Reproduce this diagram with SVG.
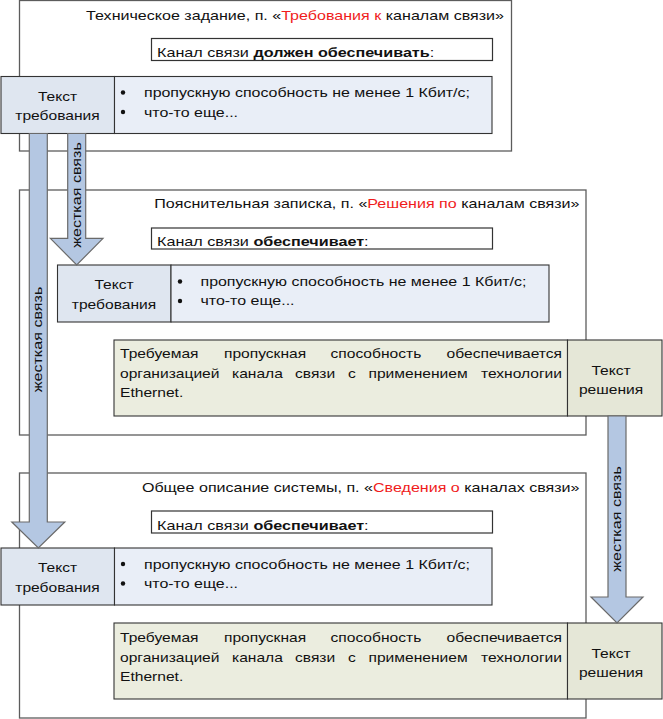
<svg xmlns="http://www.w3.org/2000/svg" width="663" height="719" viewBox="0 0 663 719">
<style>
text{font-family:"Liberation Sans",Arial,sans-serif;font-size:13px;fill:#111}
.red{fill:#f01c1c}
.b{font-weight:bold}
.mid{text-anchor:middle}
.end{text-anchor:end}
.frame{fill:#fff;stroke:#5c5c5c;stroke-width:1.3}
.box{fill:#fff;stroke:#333;stroke-width:1.2}
.rl{fill:#dfe6f0;stroke:#333;stroke-width:1.1}
.rr{fill:#e9eef7;stroke:#333;stroke-width:1.1}
.sl{fill:#ebeddf;stroke:#333;stroke-width:1.1}
.sr{fill:#e5e7d7;stroke:#333;stroke-width:1.1}
.arrow{fill:#b4c7e2;stroke:#6a6a6a;stroke-width:1.2}
.dot{fill:#111}
</style>

<g id="frame1">
<rect class="frame" x="19.5" y="0.5" width="492" height="150.5"/>
<text class="end" transform="matrix(1.236 0 0 1 504 20)">Техническое задание, п. «<tspan class="red">Требования к</tspan> каналам связи»</text>
</g>
<g id="frame2">
<rect class="frame" x="19.5" y="190" width="566.5" height="245"/>
<text class="end" transform="matrix(1.236 0 0 1 579.5 208)">Пояснительная записка, п. «<tspan class="red">Решения по</tspan> каналам связи»</text>
</g>
<g id="frame3">
<rect class="frame" x="19.5" y="473" width="566.5" height="245"/>
<text class="end" transform="matrix(1.236 0 0 1 579.5 492)">Общее описание системы, п. «<tspan class="red">Сведения о</tspan> каналах связи»</text>
</g>

<g id="box1">
<rect class="box" x="151.5" y="38.5" width="341" height="22"/>
<text transform="matrix(1.245 0 0 1 157 57)">Канал связи <tspan class="b">должен обеспечивать</tspan>:</text>
</g>
<g id="box2">
<rect class="box" x="151.5" y="228" width="341" height="21"/>
<text transform="matrix(1.245 0 0 1 157 246)">Канал связи <tspan class="b">обеспечивает</tspan>:</text>
</g>
<g id="box3">
<rect class="box" x="151.5" y="511" width="341" height="22"/>
<text transform="matrix(1.245 0 0 1 157 529.5)">Канал связи <tspan class="b">обеспечивает</tspan>:</text>
</g>

<g id="req1">
<rect class="rl" x="1" y="76.5" width="113.5" height="57"/>
<rect class="rr" x="114.5" y="76.5" width="377.5" height="57"/>
<text class="mid" transform="matrix(1.2 0 0 1 57.5 100.5)">Текст</text>
<text class="mid" transform="matrix(1.2 0 0 1 57.5 120)">требования</text>
<circle class="dot" cx="123" cy="92.5" r="2.2"/>
<circle class="dot" cx="123" cy="112" r="2.2"/>
<text transform="matrix(1.227 0 0 1 144 97)">пропускную способность не менее 1 Кбит/с;</text>
<text transform="matrix(1.227 0 0 1 144 116.5)">что-то еще...</text>
</g>

<g id="req2">
<rect class="rl" x="57.5" y="265" width="113.5" height="57"/>
<rect class="rr" x="171" y="265" width="378" height="57"/>
<text class="mid" transform="matrix(1.2 0 0 1 114 289)">Текст</text>
<text class="mid" transform="matrix(1.2 0 0 1 114 308.5)">требования</text>
<circle class="dot" cx="180" cy="281.5" r="2.2"/>
<circle class="dot" cx="180" cy="301" r="2.2"/>
<text transform="matrix(1.227 0 0 1 200.5 285.5)">пропускную способность не менее 1 Кбит/с;</text>
<text transform="matrix(1.227 0 0 1 200.5 305)">что-то еще...</text>
</g>

<g id="req3">
<rect class="rl" x="1" y="548" width="113.5" height="57"/>
<rect class="rr" x="114.5" y="548" width="377.5" height="57"/>
<text class="mid" transform="matrix(1.2 0 0 1 57.5 572)">Текст</text>
<text class="mid" transform="matrix(1.2 0 0 1 57.5 591.5)">требования</text>
<circle class="dot" cx="123" cy="564" r="2.2"/>
<circle class="dot" cx="123" cy="583.5" r="2.2"/>
<text transform="matrix(1.227 0 0 1 144 568.5)">пропускную способность не менее 1 Кбит/с;</text>
<text transform="matrix(1.227 0 0 1 144 588)">что-то еще...</text>
</g>

<g id="sol2">
<rect class="sl" x="114" y="340" width="453.5" height="76"/>
<rect class="sr" x="567.5" y="340" width="94.5" height="76"/>
<text transform="matrix(1.2 0 0 1 120 358)">Требуемая</text>
<text transform="matrix(1.2 0 0 1 224 358)">пропускная</text>
<text transform="matrix(1.2 0 0 1 330.5 358)">способность</text>
<text class="end" transform="matrix(1.2 0 0 1 562 358)">обеспечивается</text>
<text transform="matrix(1.2 0 0 1 120 377.5)">организацией</text>
<text transform="matrix(1.2 0 0 1 232 377.5)">канала</text>
<text transform="matrix(1.2 0 0 1 295 377.5)">связи</text>
<text transform="matrix(1.2 0 0 1 348 377.5)">с</text>
<text transform="matrix(1.2 0 0 1 368.5 377.5)">применением</text>
<text class="end" transform="matrix(1.2 0 0 1 562 377.5)">технологии</text>
<text transform="matrix(1.2 0 0 1 120 397)">Ethernet.</text>
<text class="mid" transform="matrix(1.2 0 0 1 611 374.5)">Текст</text>
<text class="mid" transform="matrix(1.2 0 0 1 611 394)">решения</text>
</g>

<g id="sol3">
<rect class="sl" x="114" y="623" width="453.5" height="76"/>
<rect class="sr" x="567.5" y="623" width="94.5" height="76"/>
<text transform="matrix(1.2 0 0 1 120 642)">Требуемая</text>
<text transform="matrix(1.2 0 0 1 224 642)">пропускная</text>
<text transform="matrix(1.2 0 0 1 330.5 642)">способность</text>
<text class="end" transform="matrix(1.2 0 0 1 562 642)">обеспечивается</text>
<text transform="matrix(1.2 0 0 1 120 661.5)">организацией</text>
<text transform="matrix(1.2 0 0 1 232 661.5)">канала</text>
<text transform="matrix(1.2 0 0 1 295 661.5)">связи</text>
<text transform="matrix(1.2 0 0 1 348 661.5)">с</text>
<text transform="matrix(1.2 0 0 1 368.5 661.5)">применением</text>
<text class="end" transform="matrix(1.2 0 0 1 562 661.5)">технологии</text>
<text transform="matrix(1.2 0 0 1 120 681)">Ethernet.</text>
<text class="mid" transform="matrix(1.2 0 0 1 611 657.5)">Текст</text>
<text class="mid" transform="matrix(1.2 0 0 1 611 677)">решения</text>
</g>

<g id="connectors">
<g id="link-long">
<polygon class="arrow" points="29.3,133.5 47.3,133.5 47.3,522 64.8,522 38.3,548 11.8,522 29.3,522"/>
<text class="mid" transform="translate(38.3,339.5) rotate(-90) scale(1.24,1) translate(0,3.8)">жесткая связь</text>
</g>
<g id="link-short">
<polygon class="arrow" points="67.7,133.5 85.7,133.5 85.7,238.3 103,238.3 76.7,265 50.4,238.3 67.7,238.3"/>
<text class="mid" transform="translate(76.7,195) rotate(-90) scale(1.24,1) translate(0,3.8)">жесткая связь</text>
</g>
<g id="link-right">
<polygon class="arrow" points="608,416 626,416 626,597 643,597 617,623 591,597 608,597"/>
<text class="mid" transform="translate(617,519) rotate(-90) scale(1.24,1) translate(0,3.8)">жесткая связь</text>
</g>
</g>
</svg>
